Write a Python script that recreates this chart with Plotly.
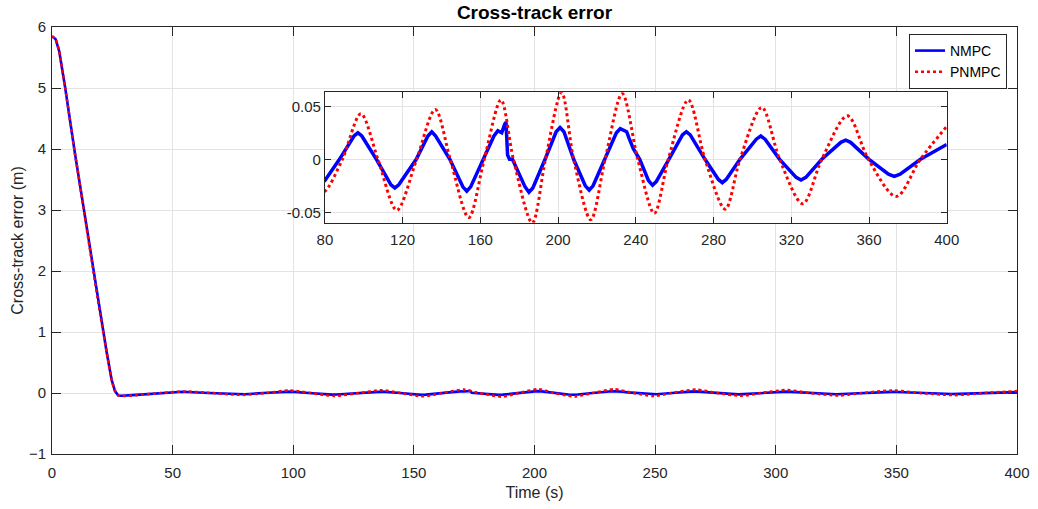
import plotly.graph_objects as go

# ---------------- data ----------------
time_nmpc = [0, 1.5, 3, 5.4, 9.5, 13, 16.4, 19.9, 22.7, 24.7, 26.1, 27.5, 29, 35, 45, 54, 65, 77,
             80, 87.5, 95, 97, 99, 106.5, 114, 116, 118, 127, 133, 135, 137, 144.3, 151, 153, 155,
             161.5, 167, 169, 171, 172.5, 173.2, 174, 175, 176.5, 183, 185, 187, 193.3, 199, 201,
             203, 208, 214, 216, 218, 224, 230, 232, 234, 235.3, 236.5, 238.7, 242, 246.5, 248.6,
             250.5, 257, 264, 266, 268, 275.6, 282.5, 284.5, 286.5, 293.6, 302, 304.3, 306.5, 314,
             322.5, 325, 327.5, 335.7, 345.5, 348, 350.5, 360, 370, 373, 376, 386.5, 400]
cte_nmpc = [5.85, 5.80, 5.60, 5.02, 3.93, 3.05, 2.18, 1.31, 0.66, 0.22, 0.03, -0.04, -0.045, -0.03,
            0.0, 0.02, 0.0, -0.02,
            -0.020, 0.0, 0.022, 0.025, 0.022, 0.0, -0.024, -0.027, -0.024, 0.0, 0.022, 0.026, 0.022,
            0.0, -0.026, -0.030, -0.026,
            0.0, 0.022, 0.027, 0.025, 0.033, 0.035, 0.004, 0.0, 0.0, -0.026, -0.031, -0.027, 0.0,
            0.026, 0.030,
            0.026, 0.0, -0.025, -0.029, -0.025, 0.0, 0.025, 0.029, 0.027, 0.026, 0.020, 0.010, 0.0,
            -0.020, -0.0245,
            -0.021, 0.0, 0.023, 0.026, 0.023, 0.0, -0.019, -0.022, -0.019, 0.0, 0.019, 0.022, 0.019,
            0.0,
            -0.017, -0.0195, -0.017, 0.0, 0.016, 0.018, 0.016, 0.0, -0.014, -0.016, -0.014, 0.0,
            0.014]

time_pnmpc = [0, 1.5, 3, 5.4, 9.5, 13, 16.4, 19.9, 22.7, 24.7, 26.1, 27.5, 29, 35, 45, 55, 66, 77,
              80, 89, 98.5, 107.3, 117, 127.2, 136.8, 144.5, 154, 162, 170.6, 177, 186.7, 193.5,
              201.8, 208, 216.8, 224.2, 233, 241, 249.5, 256.7, 267, 275.6, 286, 293.6, 304.8,
              314, 325.9, 335.7, 348.9, 359.7, 374, 386.4, 400]
cte_pnmpc = [5.85, 5.80, 5.60, 5.02, 3.93, 3.05, 2.18, 1.31, 0.66, 0.22, 0.04, -0.04, -0.05, -0.035,
             0.0, 0.025, 0.0, -0.03,
             -0.030, 0.0, 0.043, 0.0, -0.048, 0.0, 0.047, 0.0, -0.055, 0.0, 0.056, 0.0, -0.060, 0.0,
             0.063, 0.0, -0.057, 0.0, 0.062, 0.0, -0.051, 0.0, 0.056, 0.0, -0.047, 0.0, 0.049,
             0.0, -0.042, 0.0, 0.041, 0.0, -0.035, 0.0, 0.031]

main_xticks = [0, 50, 100, 150, 200, 250, 300, 350, 400]
main_yticks = [-1, 0, 1, 2, 3, 4, 5, 6]
inset_xticks = [80, 120, 160, 200, 240, 280, 320, 360, 400]
inset_yticks = [-0.05, 0, 0.05]
inset_ytext = ["-0.05", "0", "0.05"]

# ---------------- figure ----------------
AX = "#262626"
GRID = "#e3e3e3"
FONT = "Liberation Sans, Arial, Helvetica, sans-serif"
BLUE = "#0000ff"
RED = "#ff0000"

XMAIN = [0, 400]
YMAIN = [-1, 6]
XINS = [80, 400]
YINS = [-0.0598, 0.0632]

fig = go.Figure()
fig.add_trace(go.Scatter(x=time_nmpc, y=cte_nmpc, mode="lines", name="NMPC",
                         line=dict(color=BLUE, width=2.6), xaxis="x", yaxis="y"))
fig.add_trace(go.Scatter(x=time_pnmpc, y=cte_pnmpc, mode="lines", name="PNMPC",
                         line=dict(color=RED, width=2.5, dash="dot", shape="spline", smoothing=0.6),
                         xaxis="x", yaxis="y"))
fig.add_trace(go.Scatter(x=time_nmpc, y=cte_nmpc, mode="lines", name="NMPC", showlegend=False,
                         line=dict(color=BLUE, width=3.5), xaxis="x2", yaxis="y2"))
fig.add_trace(go.Scatter(x=time_pnmpc, y=cte_pnmpc, mode="lines", name="PNMPC", showlegend=False,
                         line=dict(color=RED, width=3, dash="dot", shape="spline", smoothing=0.9),
                         xaxis="x2", yaxis="y2"))

ix0, ix1 = 0.2828, 0.9272
iy0, iy1 = 0.5417, 0.847

axis_common = dict(showline=True, linecolor=AX, linewidth=1, mirror="ticks", ticks="inside",
                   tickcolor=AX, showgrid=True, gridcolor=GRID, gridwidth=1, zeroline=False,
                   automargin=False,
                   tickfont=dict(family=FONT, size=15, color=AX))

fig.update_layout(
    width=1038, height=509,
    margin=dict(l=52, r=21, t=27, b=55, pad=0, autoexpand=False),
    paper_bgcolor="white", plot_bgcolor="white",
    font=dict(family=FONT, color=AX),
    title=dict(text="<b>Cross-track error</b>", x=0.5, xref="paper", xanchor="center",
               y=1, yref="paper", yanchor="bottom", pad=dict(b=8), automargin=False,
               font=dict(family=FONT, size=19, color="#000000")),
    xaxis=dict(domain=[0, 1], range=XMAIN, tickvals=main_xticks, ticklen=9, ticklabelstandoff=5,
               title=dict(text="Time (s)", font=dict(family=FONT, size=16, color=AX), standoff=6),
               **axis_common),
    yaxis=dict(domain=[0, 1], range=YMAIN, tickvals=main_yticks, ticklen=9, ticklabelstandoff=2,
               title=dict(text="Cross-track error (m)", font=dict(family=FONT, size=16, color=AX),
                          standoff=1),
               **axis_common),
    xaxis2=dict(domain=[ix0, ix1], anchor="y2", range=XINS, tickvals=inset_xticks, ticklen=6,
                ticklabelstandoff=3, **axis_common),
    yaxis2=dict(domain=[iy0, iy1], anchor="x2", range=YINS, tickvals=inset_yticks,
                ticktext=inset_ytext, ticklen=6, **axis_common),
    legend=dict(x=(909 - 52) / 965, y=(454 - 34) / 427, xanchor="left", yanchor="top",
                bgcolor="white", bordercolor=AX, borderwidth=1,
                font=dict(family=FONT, size=14, color="#000000"), itemwidth=30,
                tracegroupgap=0),
    showlegend=True,
)

# white backing for the inset so the main grid does not show through it
fig.add_shape(type="rect", xref="x", yref="y",
              x0=XMAIN[0] + ix0 * (XMAIN[1] - XMAIN[0]), x1=XMAIN[0] + ix1 * (XMAIN[1] - XMAIN[0]),
              y0=YMAIN[0] + iy0 * (YMAIN[1] - YMAIN[0]), y1=YMAIN[0] + iy1 * (YMAIN[1] - YMAIN[0]),
              fillcolor="white", line=dict(width=0), layer="between")

fig.write_html("out.html")
